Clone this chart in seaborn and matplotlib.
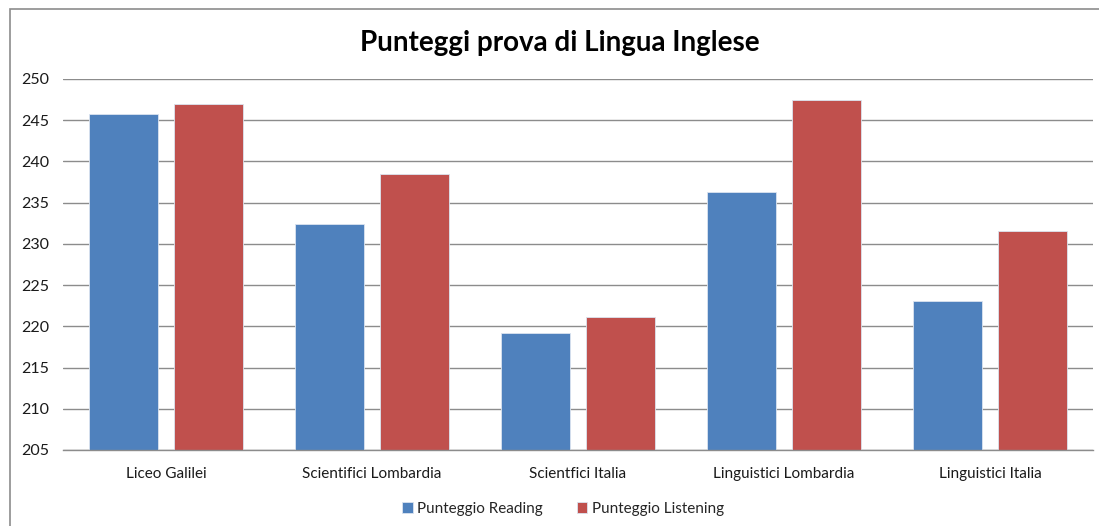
import matplotlib
matplotlib.use("Agg")
import matplotlib.pyplot as plt
import seaborn as sns
import pandas as pd
from matplotlib.patches import Rectangle

categories = ["Liceo Galilei", "Scientifici Lombardia", "Scientfici Italia",
              "Linguistici Lombardia", "Linguistici Italia"]
reading = [245.7, 232.4, 219.25, 236.3, 223.05]
listening = [247.0, 238.45, 221.15, 247.5, 231.6]
series = ["Punteggio Reading", "Punteggio Listening"]
colors = ["#4F81BD", "#C0504D"]
yticks = [205, 210, 215, 220, 225, 230, 235, 240, 245, 250]

df = pd.DataFrame({
    "Categoria": categories * 2,
    "Serie": [series[0]] * len(categories) + [series[1]] * len(categories),
    "Valore": reading + listening,
})

sns.set_theme(style="white")
plt.rcParams["font.family"] = ["Lato", "DejaVu Sans"]

fig = plt.figure(figsize=(10.99, 5.26), dpi=100)
ax = fig.add_axes([63 / 1099, 1 - 450 / 526, 1030 / 1099, 371 / 526])

sns.barplot(data=df, x="Categoria", y="Valore", hue="Serie", palette=colors,
            width=0.83, gap=0.19, ax=ax, saturation=1, legend=True,
            edgecolor="#dbe4f0", linewidth=0.6)

ax.set_ylim(205, 250)
ax.set_yticks(yticks)
ax.set_yticklabels([str(t) for t in yticks], fontsize=11.5, color="#1a1a1a")
ax.yaxis.grid(True, color="#8c8c8c", linewidth=1.0)
ax.set_axisbelow(True)
ax.set_xlim(-0.5, len(categories) - 0.5)
ax.tick_params(axis="x", labelsize=11, colors="#1a1a1a", pad=12, length=0)
ax.tick_params(axis="y", pad=10, length=0)
ax.set_xlabel("")
ax.set_ylabel("")
for s in ["top", "right", "left"]:
    ax.spines[s].set_visible(False)
ax.spines["bottom"].set_color("#8c8c8c")
ax.spines["bottom"].set_linewidth(1.0)

ax.set_title("Punteggi prova di Lingua Inglese", fontsize=20, fontweight="bold",
             color="black", y=1.0, pad=20, x=(560 - 63) / 1030)

leg = ax.legend(loc="upper center", bbox_to_anchor=(0.5 - 15 / 1030, -0.103), ncol=2,
                frameon=False, fontsize=11, handlelength=0.7, handleheight=0.7,
                handletextpad=0.3, columnspacing=2.2)

fig.patches.append(Rectangle((10 / 1099, -0.1), 1.2, 1 - 9 / 526 + 0.1,
                             transform=fig.transFigure, fill=False,
                             edgecolor="#8c8c8c", linewidth=1.2, zorder=-1))

fig.savefig("out.png", dpi=100)
